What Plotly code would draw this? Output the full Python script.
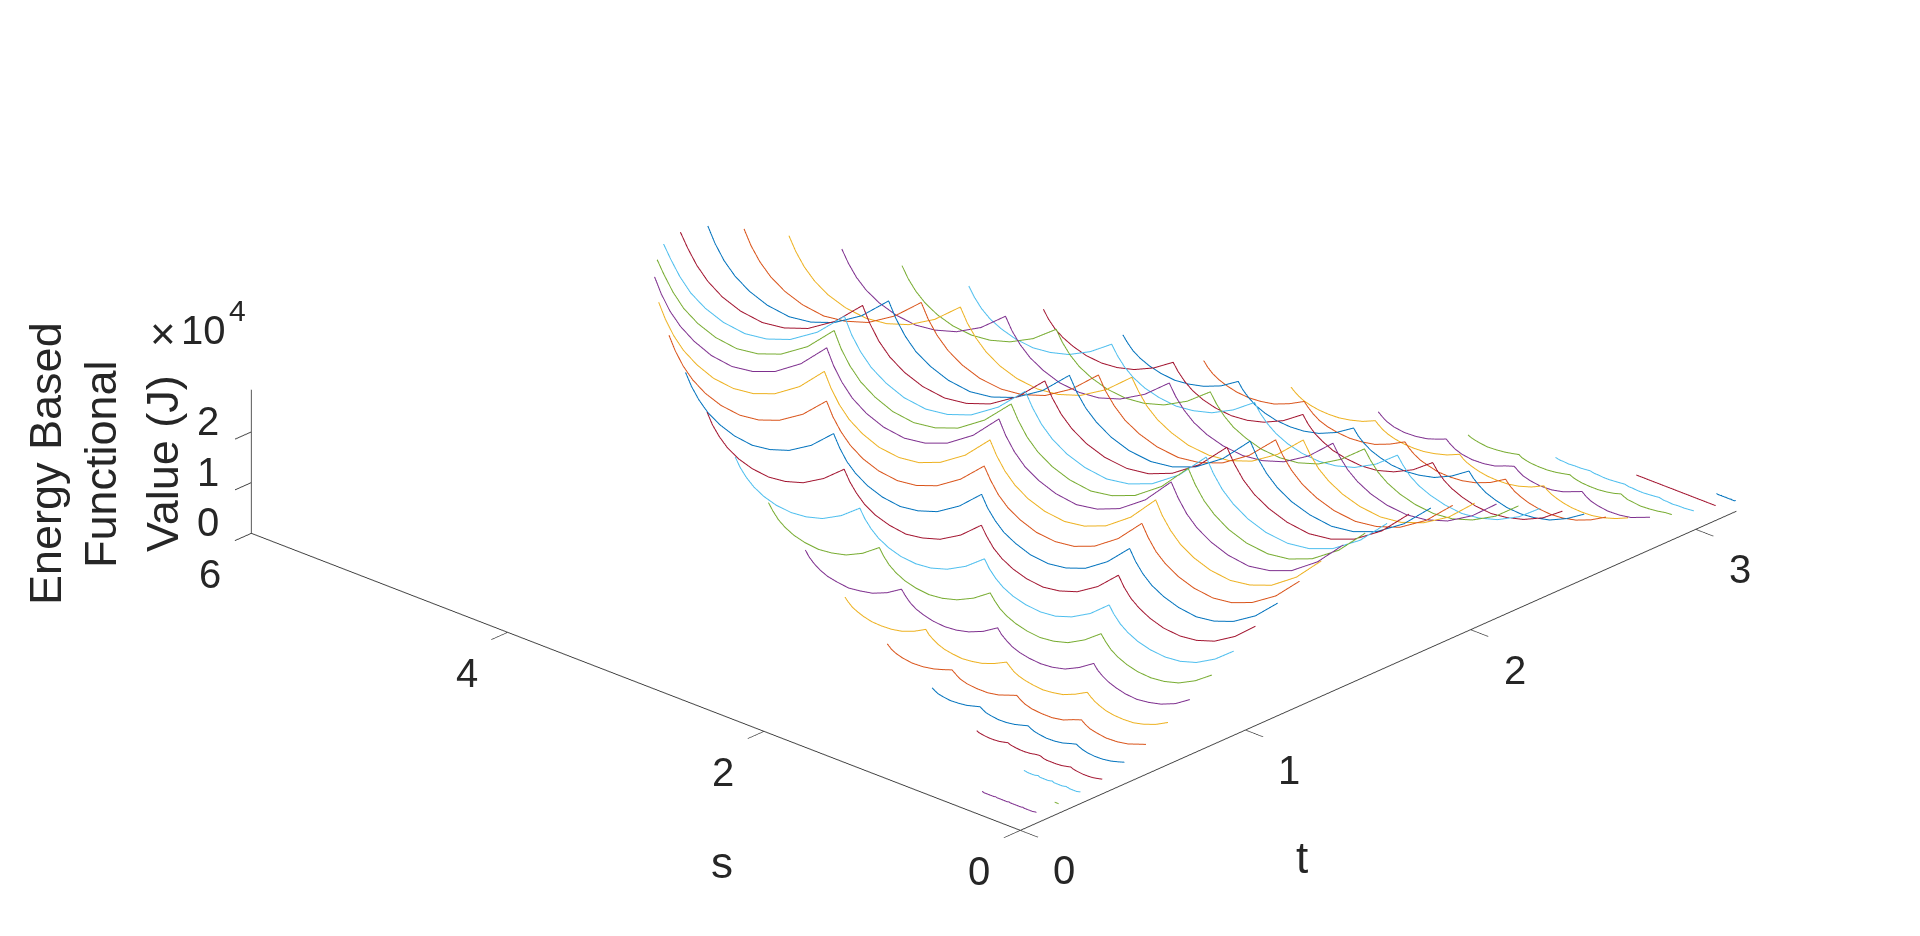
import plotly.graph_objects as go

# s is the along-curve variable, each curve is a constant t
t_values = [0.072, 0.170, 0.267, 0.364, 0.462, 0.559, 0.656, 0.753, 0.851, 0.948, 1.045, 1.143, 1.240, 1.337, 1.435, 1.532, 1.629,
            1.727, 1.824, 1.921, 2.018, 2.116, 2.213, 2.310, 2.408, 2.505, 2.602, 2.700, 2.797, 2.894, 2.992, 3.089, 3.178]
s_max = [0.425, 0.03, 0.44, 0.98, 1.50, 2.02, 2.52, 3.0, 3.46, 3.89, 4.28, 4.62, 4.92, 5.17, 5.375, 5.525, 5.645,
         5.686, 5.642, 5.53, 5.35, 5.11, 4.81, 4.46, 4.05, 3.6, 3.14, 2.63, 2.12, 1.59, 1.08, 0.62, 0.15]
# position along a curve as a share of its s_max: short curves need fewer points than the tall ones
arc_fraction = [1, .985, .9675, .9425, .905, .8625, .82, .7825, .75, .735, .7175, .6925, .655, .6125, .57, .5325, .5,
                .485, .4675, .4425, .405, .3625, .32, .2825, .25, .235, .2175, .1925, .155, .1125, .07, .0325, 0]
arc_fraction_fine = [1, .99, .9775, .9625, .9425, .9175, .8875, .8575, .825, .7875, .75,
                     .74, .7275, .7125, .6925, .6675, .6375, .6075, .575, .5375, .5,
                     .49, .4775, .4625, .4425, .4175, .3875, .3575, .325, .2875, .25,
                     .24, .2275, .2125, .1925, .1675, .1375, .1075, .075, .0375, 0]

# functional value along each curve, units of 1e4 J
z_00 = [.21,.21,.20,.20,.20,.20,.20,.20,.21,.20,.20,.20,.20,.20,.20,.20,.21,.20,.20,.20,.20,.20,.20,.20,.21,.20,.20,.20,.20,.20,.20,.21,.21]
z_01 = [.19]*33
z_02 = [.23,.22,.22,.21,.21,.21,.21,.22,.23,.22,.21,.21,.21,.21,.21,.22,.23,.22,.21,.21,.21,.21,.21,.22,.23,.22,.22,.21,.21,.21,.21,.22,.23]
z_03 = [.29,.27,.26,.25,.24,.24,.25,.27,.29,.27,.26,.25,.24,.24,.25,.27,.28,.27,.25,.24,.24,.24,.25,.27,.29,.27,.26,.25,.24,.24,.25,.27,.29]
z_04 = [.435,.395,.36,.34,.32,.33,.35,.39,.425,.385,.35,.33,.31,.315,.34,.38,.415,.38,.35,.33,.31,.315,.34,.385,.42,.39,.36,.335,.32,.325,.35,.39,.43]
z_05 = [.60,.53,.48,.44,.41,.42,.46,.52,.58,.52,.46,.42,.40,.40,.44,.51,.57,.51,.46,.42,.40,.40,.44,.52,.58,.52,.47,.44,.41,.42,.46,.53,.59]
z_06 = [.84,.77,.70,.65,.60,.56,.55,.56,.60,.69,.82,.74,.68,.62,.57,.54,.52,.54,.58,.67,.79,.73,.66,.61,.57,.54,.52,.54,.58,.68,.81,.75,.69,.64,.59,.56,.55,.56,.61,.70,.83]
z_07 = [1.11,1.00,.91,.83,.76,.72,.69,.72,.77,.89,1.07,.97,.87,.79,.73,.68,.66,.68,.74,.86,1.04,.94,.86,.78,.72,.68,.66,.68,.74,.88,1.07,.97,.89,.82,.76,.71,.69,.72,.78,.90,1.09]
z_08 = [1.40,1.27,1.14,1.04,.95,.89,.86,.89,.96,1.12,1.36,1.22,1.09,.99,.90,.84,.81,.84,.92,1.08,1.31,1.19,1.07,.98,.90,.84,.81,.84,.92,1.10,1.35,1.23,1.11,1.02,.94,.88,.86,.89,.97,1.14,1.38]
z_09 = [1.69,1.52,1.37,1.24,1.13,1.05,1.02,1.05,1.14,1.34,1.63,1.46,1.31,1.18,1.07,.99,.96,.99,1.09,1.29,1.58,1.42,1.28,1.16,1.06,.99,.96,.99,1.10,1.31,1.62,1.47,1.33,1.22,1.12,1.05,1.02,1.05,1.15,1.36,1.66]
z_10 = [2.00,1.79,1.61,1.45,1.32,1.23,1.19,1.23,1.34,1.58,1.92,1.72,1.54,1.38,1.25,1.16,1.11,1.16,1.27,1.51,1.86,1.68,1.50,1.36,1.24,1.15,1.11,1.16,1.28,1.54,1.92,1.73,1.56,1.43,1.31,1.22,1.19,1.23,1.35,1.60,1.96]
z_11 = [2.26,2.03,1.82,1.64,1.49,1.38,1.33,1.38,1.51,1.78,2.18,1.95,1.73,1.56,1.41,1.30,1.25,1.30,1.43,1.71,2.11,1.89,1.70,1.53,1.40,1.29,1.25,1.30,1.44,1.74,2.17,1.96,1.77,1.61,1.48,1.38,1.33,1.38,1.52,1.80,2.22]
z_12 = [2.51,2.25,2.01,1.81,1.64,1.52,1.47,1.52,1.67,1.97,2.41,2.15,1.92,1.72,1.55,1.43,1.38,1.43,1.58,1.89,2.33,2.10,1.87,1.69,1.54,1.42,1.38,1.43,1.59,1.92,2.40,2.17,1.95,1.78,1.63,1.52,1.47,1.52,1.68,1.99,2.46]
z_13 = [2.72,2.44,2.18,1.96,1.78,1.64,1.59,1.64,1.80,2.13,2.62,2.34,2.08,1.86,1.68,1.54,1.49,1.54,1.71,2.04,2.53,2.27,2.03,1.83,1.66,1.54,1.49,1.55,1.72,2.08,2.61,2.35,2.12,1.92,1.76,1.64,1.59,1.65,1.81,2.16,2.67]
z_14 = [2.83,2.54,2.27,2.05,1.86,1.71,1.65,1.71,1.88,2.23,2.74,2.44,2.17,1.94,1.75,1.61,1.55,1.61,1.78,2.13,2.65,2.37,2.12,1.91,1.74,1.61,1.55,1.62,1.80,2.17,2.72,2.46,2.21,2.01,1.84,1.71,1.65,1.72,1.89,2.26,2.79]
z_15 = [2.83,2.58,2.31,2.07,1.88,1.74,1.68,1.74,1.91,2.26,2.78,2.47,2.20,1.97,1.78,1.63,1.57,1.63,1.80,2.16,2.68,2.41,2.15,1.94,1.76,1.63,1.57,1.64,1.82,2.20,2.76,2.49,2.24,2.04,1.86,1.73,1.68,1.74,1.92,2.29,2.83]
z_16 = [2.83,2.58,2.31,2.07,1.88,1.74,1.68,1.74,1.91,2.26,2.78,2.47,2.20,1.97,1.78,1.63,1.57,1.63,1.80,2.16,2.68,2.41,2.15,1.94,1.76,1.63,1.57,1.64,1.82,2.20,2.76,2.49,2.24,2.04,1.86,1.73,1.68,1.74,1.92,2.29,2.83]
z_17 = [2.83,2.57,2.30,2.07,1.87,1.73,1.67,1.73,1.90,2.25,2.77,2.47,2.19,1.96,1.77,1.63,1.57,1.63,1.80,2.15,2.67,2.40,2.14,1.93,1.75,1.62,1.57,1.63,1.82,2.20,2.75,2.48,2.23,2.03,1.86,1.73,1.67,1.73,1.91,2.28,2.82]
z_18 = [2.80,2.51,2.24,2.02,1.83,1.69,1.63,1.69,1.86,2.20,2.70,2.41,2.14,1.91,1.73,1.59,1.53,1.59,1.76,2.10,2.61,2.34,2.09,1.89,1.71,1.58,1.53,1.59,1.77,2.14,2.69,2.42,2.18,1.98,1.81,1.69,1.63,1.69,1.87,2.23,2.75]
z_19 = [2.66,2.38,2.13,1.92,1.74,1.61,1.55,1.61,1.76,2.09,2.56,2.28,2.03,1.82,1.64,1.51,1.46,1.51,1.67,2.00,2.48,2.22,1.99,1.79,1.63,1.51,1.46,1.52,1.69,2.04,2.55,2.30,2.07,1.88,1.72,1.60,1.55,1.61,1.77,2.11,2.61]
z_20 = [2.51,2.25,2.01,1.81,1.64,1.52,1.47,1.52,1.67,1.97,2.41,2.15,1.92,1.72,1.55,1.43,1.38,1.43,1.58,1.89,2.33,2.10,1.87,1.69,1.54,1.42,1.38,1.43,1.59,1.92,2.40,2.17,1.95,1.78,1.63,1.52,1.47,1.52,1.68,1.99,2.46]
z_21 = [2.29,2.06,1.84,1.66,1.51,1.40,1.35,1.40,1.53,1.80,2.21,1.97,1.76,1.58,1.43,1.31,1.27,1.31,1.45,1.73,2.14,1.92,1.72,1.55,1.41,1.31,1.27,1.32,1.46,1.76,2.20,1.99,1.79,1.63,1.49,1.39,1.35,1.40,1.54,1.83,2.25]
z_22 = [2.06,1.85,1.66,1.50,1.36,1.26,1.22,1.26,1.38,1.62,1.98,1.77,1.58,1.42,1.29,1.19,1.15,1.19,1.31,1.56,1.92,1.73,1.55,1.40,1.28,1.18,1.15,1.19,1.32,1.59,1.97,1.79,1.61,1.47,1.35,1.26,1.22,1.26,1.39,1.64,2.02]
z_23 = [1.81,1.63,1.46,1.32,1.21,1.12,1.08,1.12,1.22,1.44,1.75,1.57,1.40,1.26,1.14,1.06,1.02,1.06,1.16,1.38,1.69,1.52,1.37,1.24,1.13,1.05,1.02,1.06,1.17,1.40,1.74,1.58,1.42,1.30,1.20,1.12,1.08,1.12,1.23,1.45,1.78]
z_24 = [1.56,1.40,1.26,1.15,1.05,.97,.94,.97,1.06,1.24,1.50,1.35,1.21,1.09,.99,.92,.89,.92,1.01,1.19,1.46,1.31,1.18,1.08,.98,.92,.89,.92,1.02,1.21,1.50,1.36,1.23,1.13,1.04,.97,.94,.98,1.07,1.25,1.53]
z_25 = [1.30,1.18,1.06,.97,.89,.83,.80,.83,.90,1.04,1.26,1.13,1.02,.92,.84,.78,.76,.78,.85,1.00,1.22,1.10,1.00,.91,.84,.78,.76,.79,.86,1.02,1.25,1.14,1.04,.95,.88,.82,.80,.83,.90,1.06,1.28]
z_26 = [1.05,.95,.86,.79,.73,.68,.66,.68,.73,.85,1.01,.92,.83,.75,.69,.65,.63,.65,.70,.82,.98,.89,.81,.74,.69,.64,.63,.65,.71,.83,1.01,.92,.84,.78,.72,.68,.66,.68,.74,.86,1.03]
z_27 = [.83,.77,.71,.66,.62,.59,.58,.59,.63,.70,.81,.75,.69,.64,.60,.57,.56,.57,.61,.68,.79,.73,.68,.64,.60,.57,.56,.57,.61,.69,.81,.75,.70,.66,.62,.59,.58,.59,.63,.71,.82]
z_28 = [.65,.58,.52,.47,.44,.45,.49,.56,.63,.56,.50,.45,.42,.43,.47,.55,.61,.55,.49,.45,.42,.43,.48,.56,.63,.56,.51,.47,.44,.45,.49,.57,.64]
z_29 = [.52,.49,.47,.45,.43,.44,.46,.49,.52,.48,.46,.44,.43,.43,.45,.48,.51,.48,.46,.44,.43,.43,.45,.48,.52,.49,.46,.45,.43,.44,.46,.49,.50]
z_30 = [.38,.37,.36,.36,.35,.36,.36,.37,.38,.37,.36,.36,.35,.35,.36,.37,.38,.37,.36,.36,.35,.35,.36,.37,.38,.37,.36,.36,.35,.36,.36,.37,.38]
z_31 = [.29]*33
z_32 = [.21,.21,.20,.20,.20,.20,.20,.20,.21,.20,.20,.20,.20,.20,.20,.20,.21,.20,.20,.20,.20,.20,.20,.20,.21,.20,.20,.20,.20,.20,.20,.21,.21]

z_curves = [z_00, z_01, z_02, z_03, z_04, z_05, z_06, z_07, z_08, z_09, z_10, z_11, z_12, z_13, z_14, z_15, z_16,
            z_17, z_18, z_19, z_20, z_21, z_22, z_23, z_24, z_25, z_26, z_27, z_28, z_29, z_30, z_31, z_32]

# MATLAB default colour order, first curve starts on purple
line_colors = ['#7E2F8E', '#77AC30', '#4DBEEE', '#A2142F', '#0072BD', '#D95319', '#EDB120']

t_ticks = [0, 1, 2, 3]
s_ticks = [0, 2, 4, 6]
z_ticks = [0, 1, 2]

fig = go.Figure()
for i, (t, smax, z) in enumerate(zip(t_values, s_max, z_curves)):
    fractions = arc_fraction_fine if len(z) == len(arc_fraction_fine) else arc_fraction
    fig.add_trace(go.Scatter3d(
        x=[t] * len(z),
        y=[smax * f for f in fractions],
        z=z,
        mode='lines',
        line=dict(color=line_colors[i % 7], width=2),
        showlegend=False,
    ))

ink = '#262626'
def axis(rng, ticks):
    # gl tick labels get skewed and huge in orthographic view, labels go in as scene annotations instead
    return dict(range=rng, tickvals=ticks, showticklabels=False, title=dict(text=''),
                showgrid=False, zeroline=False, showbackground=False, showspikes=False,
                showline=True, linecolor='#404040', linewidth=2,
                ticks='outside', ticklen=24, tickcolor='#404040', tickwidth=2)

def tick_label(x, y, z, text, dx, dy):
    return dict(x=x, y=y, z=z, text=text, showarrow=False, xshift=dx, yshift=dy,
                xanchor='center', yanchor='middle',
                font=dict(family='Liberation Sans', size=40, color=ink))

scene_labels = ([tick_label(v, 0, 0, str(v), 44, -40) for v in t_ticks]
                + [tick_label(0, v, 0, str(v), -41, -41) for v in s_ticks]
                + [tick_label(0, 6, v, str(v), -43, 11) for v in z_ticks])

# orthographic zoom comes from the aspect ratio, eye only sets direction and clipping
R = 4
view = (-0.666, -0.620, 0.415)
center = (-0.1335, -0.049, 0)
fig.update_layout(
    width=1920, height=936,
    margin=dict(l=0, r=0, t=0, b=0),
    paper_bgcolor='white',
    scene=dict(
        domain=dict(x=[0, 1], y=[0, 1]),
        xaxis=axis([0, 3.18], t_ticks),
        yaxis=axis([0, 6], s_ticks),
        zaxis=axis([0, 2.83], z_ticks),
        aspectmode='manual',
        aspectratio=dict(x=2.245, y=2.245, z=0.337),
        annotations=scene_labels,
        camera=dict(
            projection=dict(type='orthographic'),
            up=dict(x=0, y=0, z=1),
            center=dict(x=center[0], y=center[1], z=center[2]),
            eye=dict(x=center[0] + R * view[0], y=center[1] + R * view[1], z=center[2] + R * view[2]),
        ),
    ),
)

def label(text, x, y, size=44, angle=0):
    fig.add_annotation(text=text, x=x / 1920, y=1 - y / 936, xref='paper', yref='paper', showarrow=False,
                       xanchor='center', yanchor='middle', textangle=angle,
                       font=dict(family='Liberation Sans', size=size, color=ink))

label('Energy Based', 37, 456, size=45, angle=-90)
label('Functional', 92, 456, size=45, angle=-90)
label('Value (J)', 154, 456, size=45, angle=-90)
label('×', 155, 325, size=44)
label('10', 195, 322, size=40)
label('4', 229, 303, size=30)
label('s', 714, 854)
label('t', 1294, 849)

fig.write_html("out.html")
